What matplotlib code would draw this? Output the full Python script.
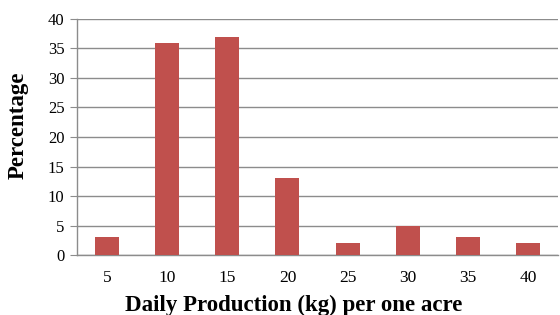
import matplotlib.pyplot as plt

# Data
categories = ["5", "10", "15", "20", "25", "30", "35", "40"]
percentages = [3, 36, 37, 13, 2, 5, 3, 2]
y_ticks = [0, 5, 10, 15, 20, 25, 30, 35, 40]

plt.rcParams['font.family'] = ['Liberation Serif', 'DejaVu Serif']

fig = plt.figure(figsize=(5.6, 3.15), dpi=100)
ax = fig.add_axes([0.1375, 0.19, 0.859, 0.75])

x = range(len(categories))
ax.bar(x, percentages, width=0.4, color='#C0504D', zorder=3)

ax.set_xlim(-0.5, len(categories) - 0.5)
ax.set_ylim(0, 40)
ax.set_yticks(y_ticks)
ax.set_xticks(list(x))
ax.set_xticklabels(categories)

ax.grid(axis='y', color='#8c8c8c', linewidth=1.0, zorder=0)
for side in ['top', 'right']:
    ax.spines[side].set_visible(False)
for side in ['left', 'bottom']:
    ax.spines[side].set_color('#8c8c8c')
    ax.spines[side].set_linewidth(1.0)

ax.tick_params(axis='y', length=5, color='#8c8c8c', labelsize=12, pad=4)
ax.tick_params(axis='x', length=0, labelsize=12.5, pad=11)

ax.set_xlabel("Daily Production (kg) per one acre", fontsize=16.5, fontweight='bold')
ax.set_ylabel("Percentage", fontsize=16.5, fontweight='bold')
ax.xaxis.set_label_coords(0.451, -0.168)
ax.yaxis.set_label_coords(-0.10, 0.551)

fig.savefig("out.png", dpi=100)
